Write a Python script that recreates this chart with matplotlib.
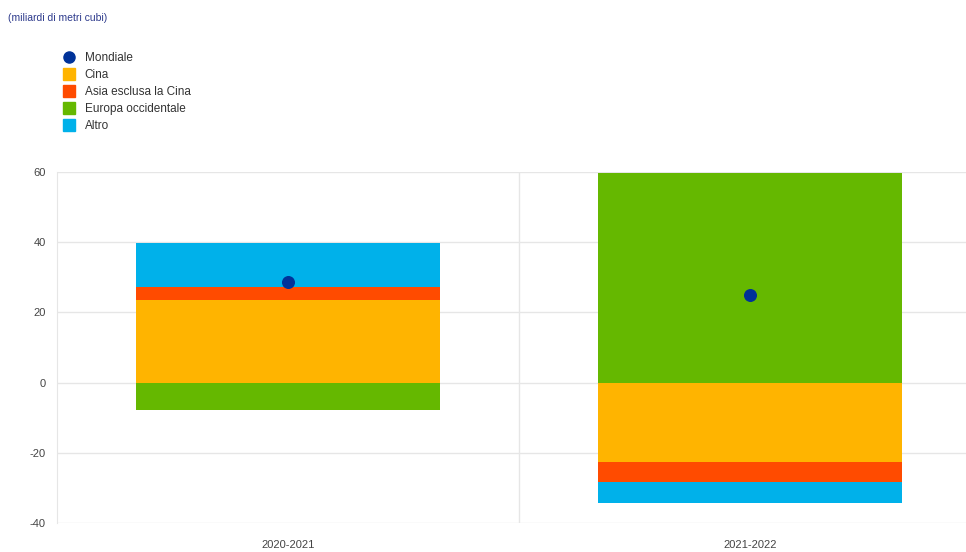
import numpy as np
import matplotlib.pyplot as plt
from matplotlib.lines import Line2D

plt.rcParams["font.family"] = ["Liberation Sans", "DejaVu Sans"]
plt.rcParams["axes.unicode_minus"] = False

periods = ["2020-2021", "2021-2022"]
cina = [23.6, -22.5]
asia = [3.6, -5.7]
europa = [-7.8, 59.7]
altro = [12.7, -6.2]
mondiale = [28.8, 25.0]

series = [("Cina", cina, "#ffb400"),
          ("Asia esclusa la Cina", asia, "#ff4b00"),
          ("Europa occidentale", europa, "#65b800"),
          ("Altro", altro, "#00b1ea")]

fig = plt.figure(figsize=(9.66, 5.52), dpi=100)
ax = fig.add_axes([57 / 966, 29 / 552, 924 / 966, 351 / 552])

x = np.arange(len(periods))
pos_base = np.zeros(len(periods))
neg_base = np.zeros(len(periods))
for name, vals, col in series:
    vals = np.array(vals)
    base = np.where(vals >= 0, pos_base, neg_base)
    ax.bar(x, vals, bottom=base, width=0.66, color=col, zorder=2)
    pos_base = pos_base + np.where(vals >= 0, vals, 0)
    neg_base = neg_base + np.where(vals < 0, vals, 0)

ax.scatter(x, mondiale, s=70, color="#003299", zorder=3)

ax.set_ylim(-40, 60)
ax.set_yticks([-40, -20, 0, 20, 40, 60])
ax.set_xlim(-0.5, 1.5)
ax.set_xticks(x)
ax.set_xticklabels(periods)
ax.set_xticks([0.5], minor=True)
ax.grid(axis="y", color="#e6e6e6", linewidth=1, zorder=0)
ax.grid(axis="x", which="minor", color="#e6e6e6", linewidth=1, zorder=0)
ax.tick_params(axis="both", which="both", length=0, labelsize=8, colors="#444444")
ax.tick_params(axis="y", pad=8)
ax.tick_params(axis="x", pad=12)
for s in ["top", "right", "bottom"]:
    ax.spines[s].set_visible(False)
ax.spines["left"].set_color("#e6e6e6")

fig.text(8 / 966, 1 - 18 / 552, "(miliardi di metri cubi)", fontsize=7.5,
         color="#2d3a8c", va="center")

handles = [Line2D([], [], marker="o", linestyle="", color="#003299", markersize=8)]
labels = ["Mondiale"]
for name, vals, col in series:
    handles.append(Line2D([], [], marker="s", linestyle="", color=col, markersize=9))
    labels.append(name)
fig.legend(handles, labels, loc="upper left", bbox_to_anchor=(57 / 966, 1 - 46 / 552),
           frameon=False, fontsize=8.5, handletextpad=0.85, labelspacing=0.42,
           handlelength=1.0, borderpad=0, labelcolor="#333333")

fig.savefig("out.png", dpi=100)
